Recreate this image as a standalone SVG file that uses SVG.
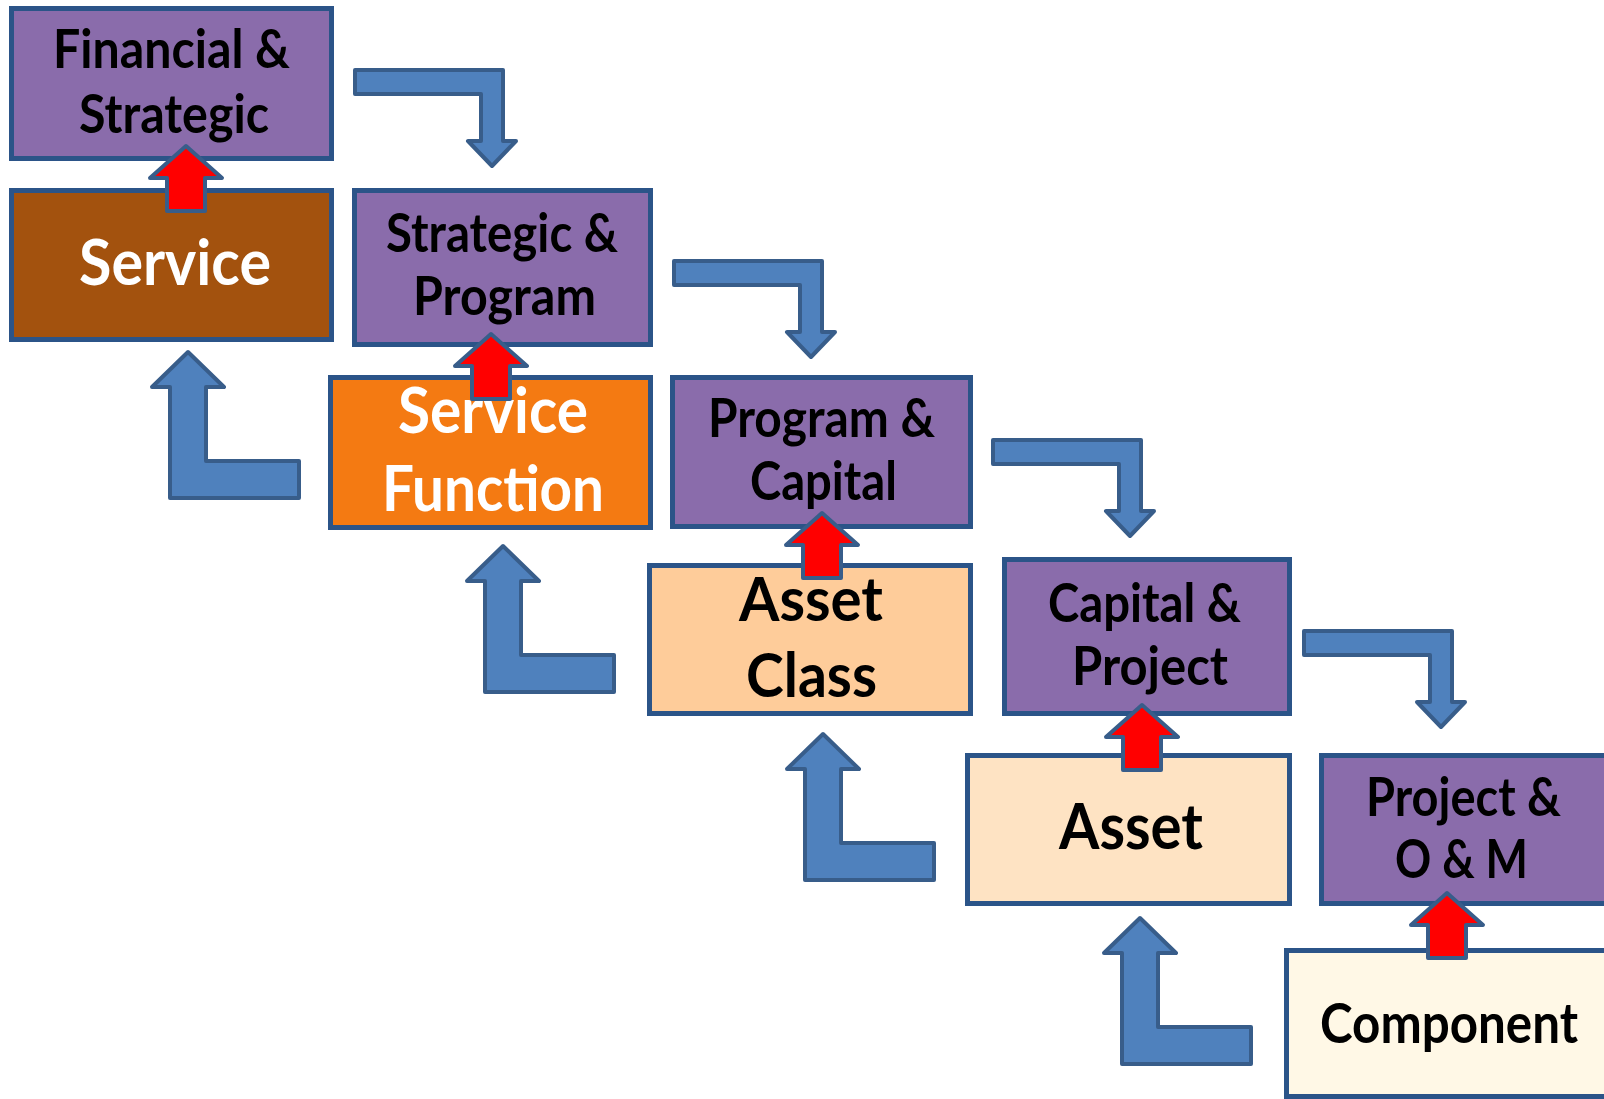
<svg xmlns="http://www.w3.org/2000/svg" xmlns:xlink="http://www.w3.org/1999/xlink" width="1604" height="1099" viewBox="0 0 1604 1099">
<style>
.box{stroke:#2B5488;stroke-width:5}
.purple{fill:#8A6CAB}
.brown{fill:#A3520E}
.orange{fill:#F47A12}
.peach{fill:#FECC9A}
.light{fill:#FEE3C3}
.cream{fill:#FFF8E6}
.t{font-family:Lato,"Open Sans","Liberation Sans",sans-serif;font-weight:700;text-anchor:middle;fill:#000}
.w{fill:#FFFFFF}
.blue{fill:#4F81BD;stroke:#385D8A;stroke-width:4;stroke-linejoin:round}
.red{fill:#FF0000;stroke:#385D8A;stroke-width:4;stroke-linejoin:round}
</style>
<defs>
<path id="bentDown" d="M2,2 H150 V73 H163 L139,98 L115,73 H128 V26 H2 Z"/>
<path id="upL" d="M39,3 L75,38 H57 V112 H150 V149 H21 V38 H3 Z"/>
<path id="redUp" d="M39,3 L75,35 H58 V68 H20 V35 H3 Z"/>
</defs>
<rect width="1604" height="1099" fill="#FFFFFF"/>

<g id="connectors-blue">
<use xlink:href="#bentDown" class="blue" transform="translate(353,68)"/>
<use xlink:href="#bentDown" class="blue" transform="translate(672,259)"/>
<use xlink:href="#bentDown" class="blue" transform="translate(991,438)"/>
<use xlink:href="#bentDown" class="blue" transform="translate(1302,629)"/>
<use xlink:href="#upL" class="blue" transform="translate(149,349)"/>
<use xlink:href="#upL" class="blue" transform="translate(464,543)"/>
<use xlink:href="#upL" class="blue" transform="translate(784,731)"/>
<use xlink:href="#upL" class="blue" transform="translate(1101,915)"/>
</g>

<g id="n-financial">
<rect class="box purple" x="11.5" y="8.5" width="320" height="150"/>
<text class="t" font-size="53" x="171.5" y="68" textLength="237" lengthAdjust="spacingAndGlyphs">Financial &amp;</text>
<text class="t" font-size="53" x="174" y="133" textLength="190" lengthAdjust="spacingAndGlyphs">Strategic</text>
</g>
<g id="n-service">
<rect class="box brown" x="11.5" y="190.5" width="320" height="149"/>
<text class="t w" font-size="64" x="175" y="285" textLength="192" lengthAdjust="spacingAndGlyphs">Service</text>
</g>
<g id="n-strategic-program">
<rect class="box purple" x="354.5" y="190.5" width="296" height="154"/>
<text class="t" font-size="53" x="502" y="252" textLength="232" lengthAdjust="spacingAndGlyphs">Strategic &amp;</text>
<text class="t" font-size="53" x="504.5" y="315" textLength="183" lengthAdjust="spacingAndGlyphs">Program</text>
</g>
<g id="n-service-function">
<rect class="box orange" x="330.5" y="377.5" width="320" height="150"/>
<text class="t w" font-size="64" x="493" y="433" textLength="190" lengthAdjust="spacingAndGlyphs">Service</text>
<text class="t w" font-size="64" x="493" y="511" textLength="222" lengthAdjust="spacingAndGlyphs">Function</text>
</g>
<g id="n-program-capital">
<rect class="box purple" x="672.5" y="377.5" width="298" height="149"/>
<text class="t" font-size="53" x="821.5" y="437" textLength="227" lengthAdjust="spacingAndGlyphs">Program &amp;</text>
<text class="t" font-size="53" x="823.5" y="500" textLength="147" lengthAdjust="spacingAndGlyphs">Capital</text>
</g>
<g id="n-asset-class">
<rect class="box peach" x="649.5" y="565.5" width="321" height="148"/>
<text class="t" font-size="62" x="811" y="621" textLength="144" lengthAdjust="spacingAndGlyphs">Asset</text>
<text class="t" font-size="62" x="811.5" y="697" textLength="131" lengthAdjust="spacingAndGlyphs">Class</text>
</g>
<g id="n-capital-project">
<rect class="box purple" x="1004.5" y="559.5" width="285" height="154"/>
<text class="t" font-size="53" x="1144.5" y="622" textLength="193" lengthAdjust="spacingAndGlyphs">Capital &amp;</text>
<text class="t" font-size="53" x="1150" y="685" textLength="156" lengthAdjust="spacingAndGlyphs">Project</text>
</g>
<g id="n-asset">
<rect class="box light" x="967.5" y="755.5" width="322" height="148"/>
<text class="t" font-size="64" x="1131" y="849" textLength="144" lengthAdjust="spacingAndGlyphs">Asset</text>
</g>
<g id="n-project-om">
<rect class="box purple" x="1321.5" y="755.5" width="300" height="148"/>
<text class="t" font-size="53" x="1463.5" y="816" textLength="195" lengthAdjust="spacingAndGlyphs">Project &amp;</text>
<text class="t" font-size="53" x="1461.5" y="878" textLength="133" lengthAdjust="spacingAndGlyphs">O &amp; M</text>
</g>
<g id="n-component">
<rect class="box cream" x="1286.5" y="950.5" width="330" height="146"/>
<text class="t" font-size="56" x="1449" y="1043" textLength="258" lengthAdjust="spacingAndGlyphs">Component</text>
</g>

<g id="connectors-red">
<use xlink:href="#redUp" class="red" transform="translate(147,143)"/>
<use xlink:href="#redUp" class="red" transform="translate(452,331)"/>
<use xlink:href="#redUp" class="red" transform="translate(783,510)"/>
<use xlink:href="#redUp" class="red" transform="translate(1103,702)"/>
<use xlink:href="#redUp" class="red" transform="translate(1408,890)"/>
</g>
</svg>
